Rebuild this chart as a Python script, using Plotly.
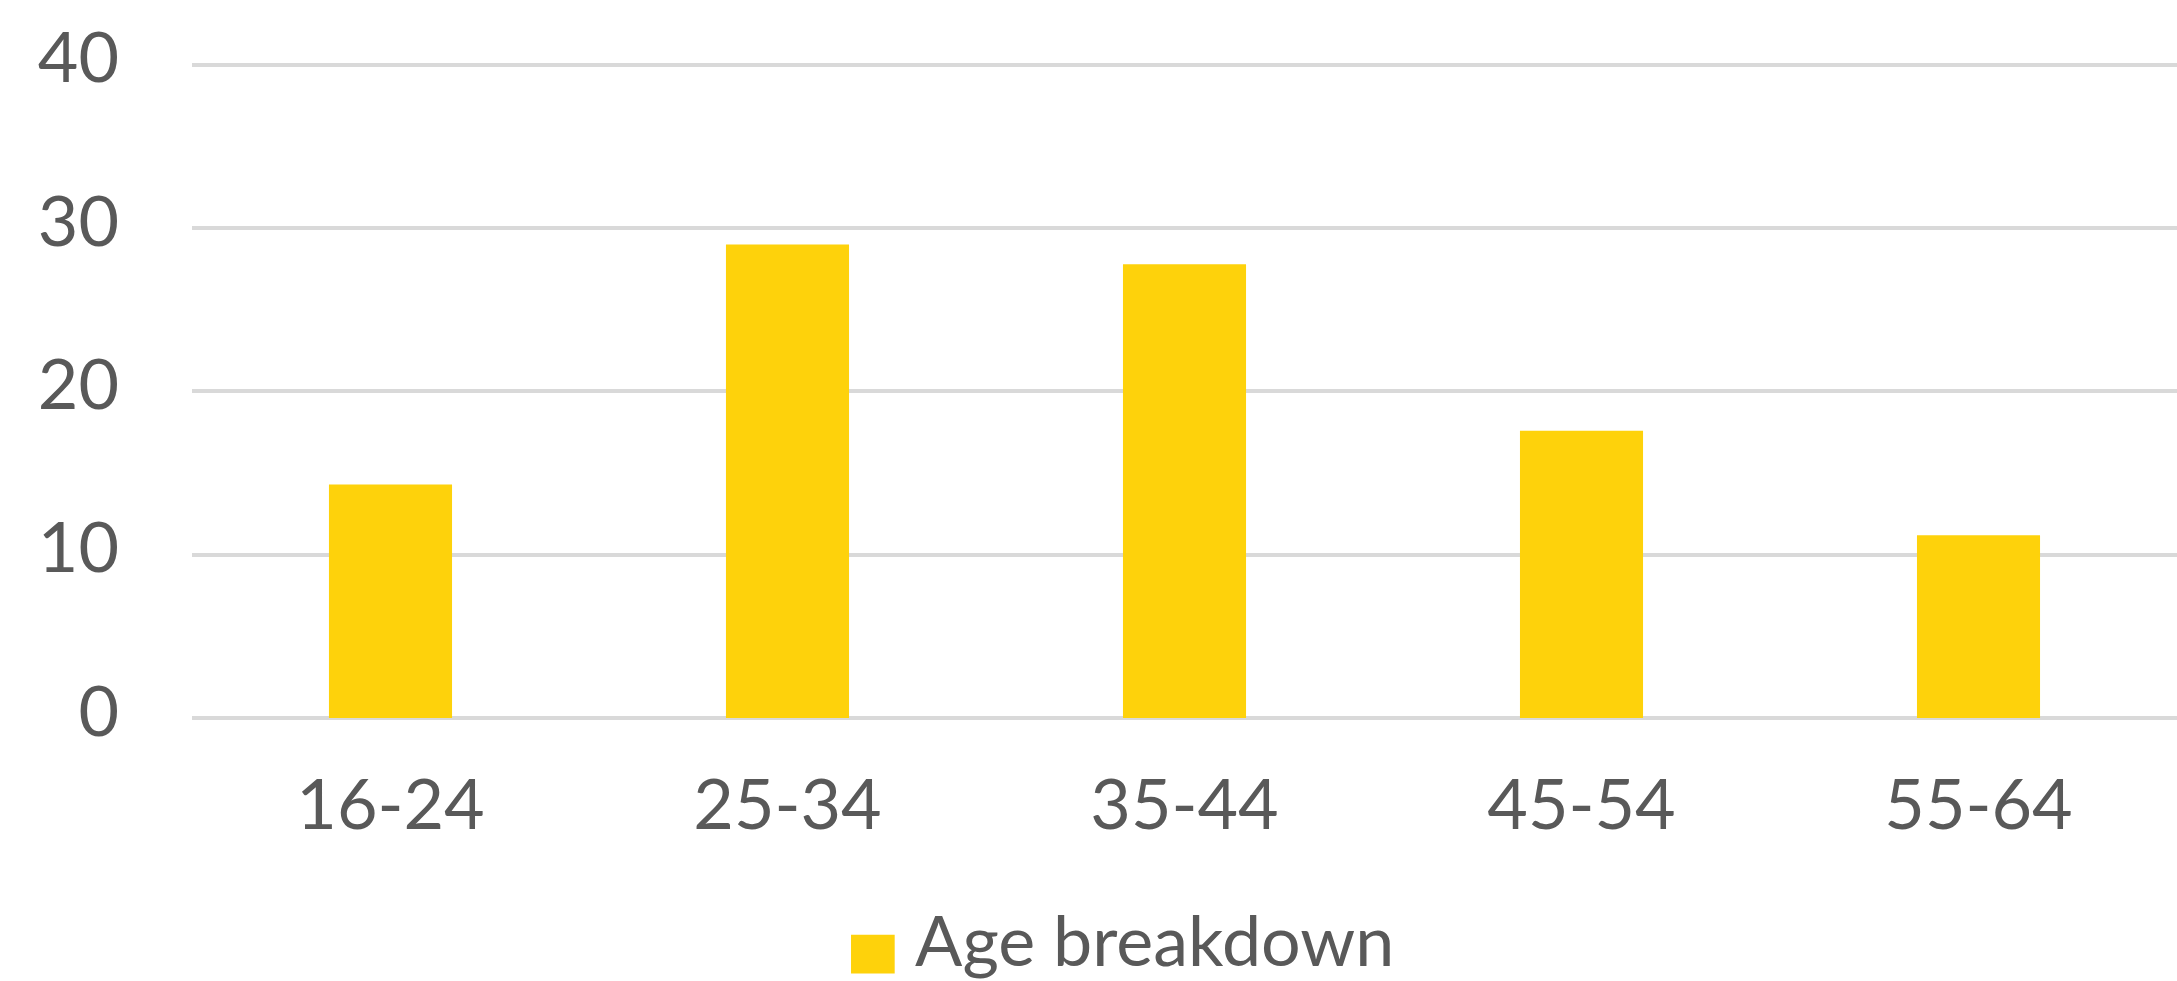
import plotly.graph_objects as go

categories = ["16-24", "25-34", "35-44", "45-54", "55-64"]
values = [14.3, 29.0, 27.8, 17.6, 11.2]
series_name = "Age breakdown"
y_ticks = [0, 10, 20, 30, 40]

BAR_COLOR = "#FED20B"
TEXT_COLOR = "#595959"
GRID_COLOR = "#D9D9D9"
FONT = "Lato, 'Open Sans', sans-serif"
FS = 70

fig = go.Figure()
fig.add_trace(go.Bar(
    x=categories, y=values, name=series_name,
    marker=dict(color=BAR_COLOR, line=dict(width=0)),
    showlegend=False,
))

# legend key drawn as decoration (large square like the original)
fig.add_shape(type="rect", xref="paper", yref="paper",
              x0=0.332, x1=0.354, y0=-0.390, y1=-0.331,
              fillcolor=BAR_COLOR, line=dict(width=0))
fig.add_annotation(text=series_name, xref="paper", yref="paper",
                   x=0.363, y=-0.338, xanchor="left", yanchor="middle",
                   showarrow=False, font=dict(family=FONT, size=FS, color=TEXT_COLOR))

fig.update_layout(
    width=2177, height=981,
    margin=dict(l=192, r=0, t=63, b=263),
    paper_bgcolor="white", plot_bgcolor="white",
    bargap=0.69,
    font=dict(family=FONT, size=FS, color=TEXT_COLOR),
    xaxis=dict(showgrid=False, showline=False, zeroline=False, ticks="",
               ticklabelstandoff=40, tickfont=dict(size=FS, color=TEXT_COLOR)),
    yaxis=dict(range=[0, 40.12], tickvals=y_ticks, showgrid=True, gridcolor=GRID_COLOR,
               gridwidth=4, zeroline=True, zerolinecolor=GRID_COLOR, zerolinewidth=4,
               showline=False, ticks="", ticklabelshift=-7,
               ticklabelstandoff=72, tickfont=dict(size=FS, color=TEXT_COLOR)),
)

fig.write_html("out.html")
